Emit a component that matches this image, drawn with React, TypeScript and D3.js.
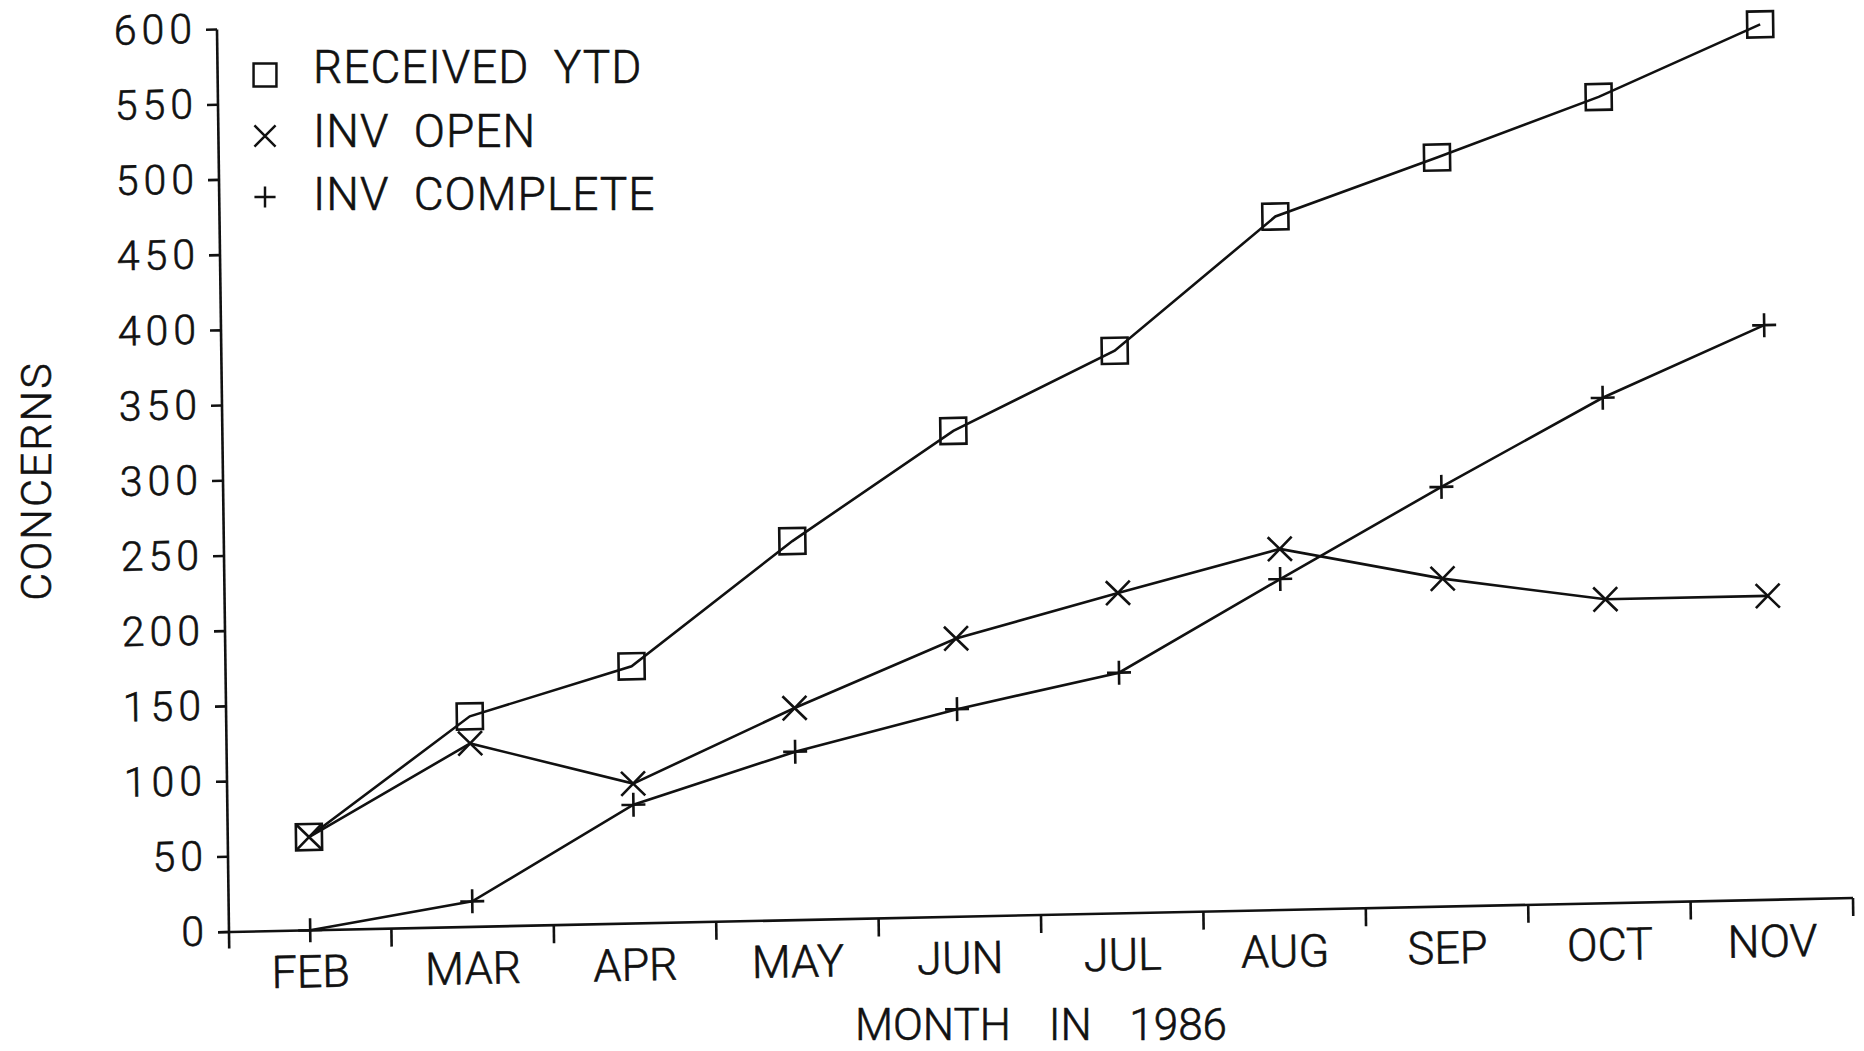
import React, { useEffect } from "react";
import * as d3 from "d3";

// values (the photocopy is slightly sheared)
const months = ["FEB", "MAR", "APR", "MAY", "JUN", "JUL", "AUG", "SEP", "OCT", "NOV"];
const receivedYtd = [62, 140, 171, 252, 323, 374, 461, 498, 536, 582];
const invOpen = [62, 122, 93, 141, 185, 213, 240, 218, 202, 202];
const invComplete = [0, 17, 79, 112, 138, 160, 220, 279, 336, 382];
const yTicks = [0, 50, 100, 150, 200, 250, 300, 350, 400, 450, 500, 550, 600];

const seriesNames = ["RECEIVED  YTD", "INV  OPEN", "INV  COMPLETE"];

const W = 1864;
const H = 1051;
const origin = { x: 229, y: 932 }; // where the two axes meet on the page
const innerW = 1624;
const innerH = 902.5;
// shear of the copy: x axis rises 34px over its length, y axis leans 12px left at the top
const shearX = -0.0209;
const shearY = 0.0133;

const font = "Roboto, 'DejaVu Sans', sans-serif";
const ink = "#111";

const markerPath: Record<string, string> = {
  square: "M-13,-13h26v26h-26z",
  cross: "M-12,-12L12,12M-12,12L12,-12",
  plus: "M-12,0H12M0,-12V12",
};

export default function App() {
  useEffect(() => {
    document.body.style.margin = "0";
  }, []);

  const x = d3.scaleBand<string>().domain(months).range([0, innerW]);
  const y = d3.scaleLinear().domain([0, 600]).range([innerH, 0]);
  const cx = (m: string) => (x(m) as number) + x.bandwidth() / 2;

  const line = d3
    .line<number>()
    .x((_, i) => cx(months[i]))
    .y((d) => y(d));

  const series = [
    { name: seriesNames[0], values: receivedYtd, marker: "square" },
    { name: seriesNames[1], values: invOpen, marker: "cross" },
    { name: seriesNames[2], values: invComplete, marker: "plus" },
  ];

  const plotTransform = `translate(${origin.x},${origin.y}) matrix(1,${shearX},${shearY},1,0,0) translate(0,${-innerH})`;

  return (
    <svg width={W} height={H} style={{ display: "block", background: "#fff" }}>
      <g transform={plotTransform}>
        {/* axes */}
        <g stroke={ink} strokeWidth={2.6} fill="none">
          <line x1={0} x2={0} y1={y(600)} y2={innerH + 16.5} />
          {yTicks.map((t) => (
            <line key={t} x1={-11} x2={0} y1={y(t)} y2={y(t)} />
          ))}
          <line x1={-11} x2={innerW} y1={innerH} y2={innerH} />
          {months.map((m) => (
            <line
              key={m}
              x1={(x(m) as number) + x.bandwidth()}
              x2={(x(m) as number) + x.bandwidth()}
              y1={innerH}
              y2={innerH + 18}
            />
          ))}
        </g>
        <g fontFamily={font} fontWeight={300} fill={ink} stroke={ink} strokeWidth={0.6}>
          {yTicks.map((t) => (
            <text key={t} x={-20} y={y(t) + 13} textAnchor="end" fontSize={41} letterSpacing={5}>
              {t}
            </text>
          ))}
          {months.map((m) => (
            <text key={m} x={cx(m)} y={innerH + 57} textAnchor="middle" fontSize={45}>
              {m}
            </text>
          ))}
        </g>

        {/* series */}
        {series.map((s) => (
          <g key={s.name} stroke={ink} strokeWidth={2.6} fill="none">
            <path d={line(s.values) || ""} />
            {s.values.map((v, i) => (
              <path
                key={i}
                transform={`translate(${cx(months[i])},${y(v)})`}
                d={markerPath[s.marker]}
              />
            ))}
          </g>
        ))}
      </g>

      {/* legend */}
      <g fontFamily={font} fontWeight={300} fill={ink}>
        {series.map((s, i) => (
          <g key={s.name}>
            <path
              d={markerPath[s.marker]}
              transform={`translate(265,${75 + i * 61}) scale(0.88)`}
              stroke={ink}
              strokeWidth={2.8}
              fill="none"
            />
            <text
              x={313}
              y={83 + i * 63.5}
              fontSize={46}
              letterSpacing={1}
              stroke={ink}
              strokeWidth={0.6}
              style={{ whiteSpace: "pre" }}
            >
              {s.name}
            </text>
          </g>
        ))}
      </g>

      {/* axis titles */}
      <text
        x={1041}
        y={1040}
        textAnchor="middle"
        fontFamily={font}
        fontWeight={300}
        fontSize={44}
        wordSpacing={27}
        fill={ink}
        stroke={ink}
        strokeWidth={0.6}
      >
        MONTH IN 1986
      </text>
      <text
        transform="translate(51,481) rotate(-90)"
        textAnchor="middle"
        fontFamily={font}
        fontWeight={300}
        fontSize={43}
        letterSpacing={2}
        fill={ink}
        stroke={ink}
        strokeWidth={0.6}
      >
        CONCERNS
      </text>
    </svg>
  );
}
